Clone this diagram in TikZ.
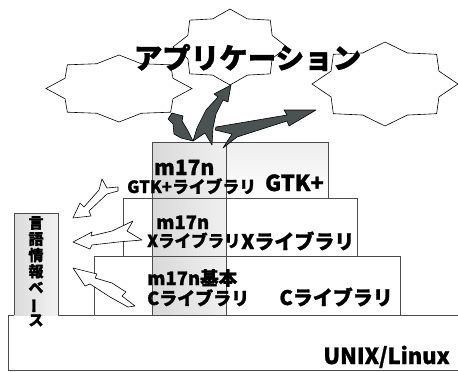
\documentclass[tikz,border=0pt]{standalone}
\usepackage{fontspec}
\newfontfamily\jp{Noto Sans CJK JP}[BoldFeatures={FakeBold=1.2}]
\newcommand\fs[1]{\fontsize{#1}{#1}\selectfont}
\begin{document}
\begin{tikzpicture}[x=1pt,y=-1pt,
  box/.style={draw=black!70, line width=0.7pt},
  starline/.style={draw=black, line width=0.6pt, fill=white, line join=miter},
  darrow/.style={draw=black, line width=0.6pt, fill={rgb,255:red,74;green,82;blue,82}, line join=round},
  warrow/.style={draw=black, line width=0.6pt, fill=white, line join=round},
  lbl/.style={inner sep=0pt, font=\jp\bfseries, text=black}]
\useasboundingbox (0,0) rectangle (458,372);

% layer boxes
\fill[top color=black!7, bottom color=white] (152,142) rectangle (328,198);
\fill[white] (123,198) rectangle (357,256);
\fill[white] (94,256) rectangle (400,315);
\fill[white] (8,315) rectangle (470,371);
% m17n column
\fill[left color=black!15, right color=black!6] (152,142) rectangle (226,315);
\draw[box] (152,142) rectangle (328,198);
\draw[box] (123,198) rectangle (357,256);
\draw[box] (94,256) rectangle (400,315);
\draw[box] (470,315) -- (8,315) -- (8,370.5) -- (470,370.5);
\draw[box] (152,142) -- (152,315) (226,142) -- (226,315);

% language information base
\fill[left color=black!14, right color=black!5] (14,213) rectangle (58,315);
\draw[box] (14,315) -- (14,213) -- (58,213) -- (58,315);
\node[lbl, anchor=north, align=center, font=\jp\bfseries\fontsize{15}{16.2}\selectfont] (kb) at (36,216)
  {言\\語\\情\\報\\ベ\\\rotatebox[origin=c]{90}{ー}\\ス};

% application stars
\foreach \cx/\cy/\rx/\ry in {119/88.5/73/33.5, 385/84/73/42, 230/47/57/38}{
  \draw[starline] (\cx+\rx,\cy)
    \foreach \k [evaluate=\k as \r using {mod(\k,2)==0 ? 1 : 0.8}] in {1,...,15}
      { -- ({\cx+\r*\rx*cos(22.5*\k)},{\cy+\r*\ry*sin(22.5*\k)}) } -- cycle;
}
\node[lbl, font=\jp\bfseries\fs{28.5}] (app) at (247.5,57.5) {アプリケーション};

% arrows from the m17n column to the applications
\draw[darrow] (193,141) -- (181,138) -- (174,134) -- (173,124) -- (168,119) -- (172,113)
  -- (183,116) -- (182,121) -- (188,131) -- cycle;
\draw[darrow] (193,141) -- (197,128) -- (206,110) -- (218,97) -- (214,94) -- (231,85)
  -- (228,102) -- (223,100) -- (216,114) -- (213,128) -- (212,145) -- (205,133) -- cycle;
\draw[darrow] (216,127) -- (287,115) -- (284,110) -- (316,110) -- (289,126) -- (287,121)
  -- (237,137) -- (223,148) -- (232,134) -- (215,130) -- cycle;

% arrows towards the information base
\draw[warrow] (118,187) -- (118,191) -- (107,194) -- (89,211) -- (91,216) -- (73,218)
  -- (80,203) -- (84,207) -- (99,190) -- (102,179) -- (107,188) -- cycle;
\draw[warrow] (73,242) -- (92,232) -- (91,236) -- (112,231) -- (133,221) -- (127,231)
  -- (142,240) -- (118,242) -- (92,245) -- (90,249) -- cycle;
\draw[warrow] (73,268) -- (97,274) -- (95,278) -- (112,283) -- (126,292) -- (122,296)
  -- (135,306) -- (128,307) -- (110,297) -- (90,284) -- (85,286) -- cycle;

% labels
\node[lbl, anchor=base west, font=\jp\bfseries\fs{21}] (m1) at (154,175) {m17n};
\node[lbl, anchor=base west, font=\jp\bfseries\fs{16.8}] (g1) at (127,193) {GTK+ライブラリ};
\node[lbl, anchor=base east, font=\jp\bfseries\fs{22}] (g2) at (324,191) {GTK+};
\node[lbl, anchor=base west, font=\jp\bfseries\fs{18.5}] (m2) at (156,229) {m17n};
\node[lbl, anchor=base west, font=\jp\bfseries\fs{16.5}] (x1) at (147,247) {Xライブラリ};
\node[lbl, anchor=base west, font=\jp\bfseries\fs{20}] (x2) at (241,249) {Xライブラリ};
\node[lbl, anchor=base west, font=\jp\bfseries\fs{18.5}] (m3) at (147,285) {m17n基本};
\node[lbl, anchor=base west, font=\jp\bfseries\fs{18}] (c1) at (147,305) {Cライブラリ};
\node[lbl, anchor=base east, font=\jp\bfseries\fs{20}] (c2) at (393,305) {Cライブラリ};
\node[lbl, anchor=base east, font=\jp\bfseries\fs{22}] (os) at (450,364) {UNIX/Linux};
\end{tikzpicture}
\end{document}
